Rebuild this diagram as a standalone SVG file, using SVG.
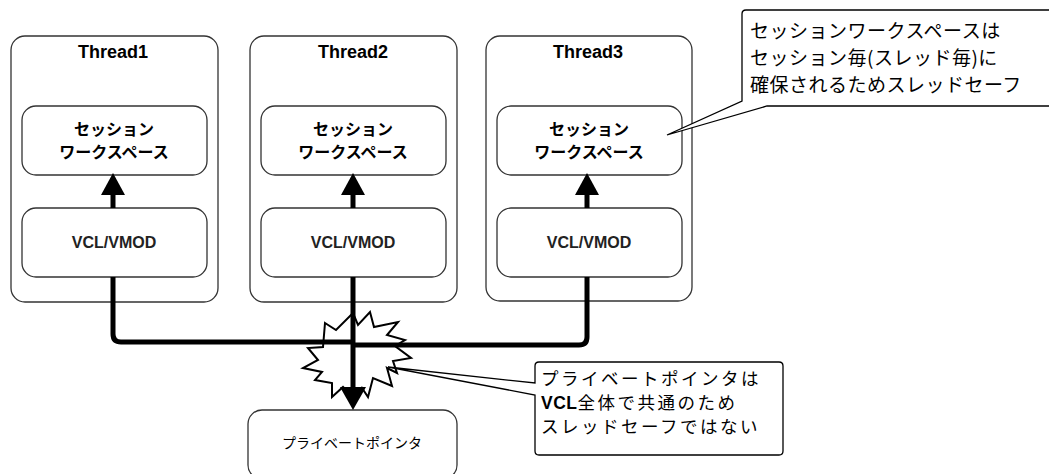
<svg xmlns="http://www.w3.org/2000/svg" width="1049" height="474" viewBox="0 0 1049 474">
<style>
.box{fill:#fff;stroke:#333;stroke-width:1.3}
.title{font-family:"Liberation Sans","Noto Sans CJK JP",sans-serif;font-weight:bold;font-size:18px;text-anchor:middle;fill:#000}
.ses{font-family:"Noto Sans CJK JP",sans-serif;font-weight:bold;font-size:16px;text-anchor:middle;fill:#000}
.vcl{font-family:"Liberation Sans","Noto Sans CJK JP",sans-serif;font-weight:bold;font-size:16px;text-anchor:middle;fill:#222}
.ptr{font-family:"Noto Sans CJK JP",sans-serif;font-size:14px;text-anchor:middle;fill:#000}
.note{font-family:"Noto Sans CJK JP",sans-serif;font-size:19px;letter-spacing:0.5px;fill:#000}
.note2{font-family:"Noto Sans CJK JP",sans-serif;font-size:17.5px;letter-spacing:2.5px;fill:#000}
.wire{fill:none;stroke:#000;stroke-width:5}
.head{fill:#000}
.call{fill:#fff;stroke:#000;stroke-width:1.3}
</style>
<g id="thread1">
<rect class="box" x="11" y="36" width="207" height="266" rx="14"/>
<text class="title" x="113" y="58">Thread1</text>
<rect class="box" x="22" y="106" width="185" height="69" rx="14"/>
<text class="ses" x="114" y="135">セッション</text>
<text class="ses" x="114" y="158">ワークスペース</text>
<rect class="box" x="22" y="208" width="185" height="69" rx="14"/>
<text class="vcl" x="114" y="248">VCL/VMOD</text>
</g>
<g id="thread2">
<rect class="box" x="250" y="36" width="207" height="266" rx="14"/>
<text class="title" x="353" y="58">Thread2</text>
<rect class="box" x="261" y="106" width="185" height="69" rx="14"/>
<text class="ses" x="353" y="135">セッション</text>
<text class="ses" x="353" y="158">ワークスペース</text>
<rect class="box" x="261" y="208" width="185" height="69" rx="14"/>
<text class="vcl" x="353" y="248">VCL/VMOD</text>
</g>
<g id="thread3">
<rect class="box" x="486" y="36" width="206" height="265" rx="14"/>
<text class="title" x="588" y="58">Thread3</text>
<rect class="box" x="497" y="106" width="185" height="69" rx="14"/>
<text class="ses" x="589" y="135">セッション</text>
<text class="ses" x="589" y="158">ワークスペース</text>
<rect class="box" x="497" y="208" width="185" height="69" rx="14"/>
<text class="vcl" x="589" y="248">VCL/VMOD</text>
</g>
<g id="pointer">
<rect class="box" x="248" y="410" width="209" height="69" rx="14"/>
<text class="ptr" x="352" y="448">プライベートポインタ</text>
</g>
<g id="conflict">
<polygon fill="#fff" stroke="#000" stroke-width="2" stroke-linejoin="miter" points="325,323 336,330 353,313 358,325 370,312 374,327 398,322 387,335 405,340 395,346 411,358 393,361 397,373 387,368 392,386 373,378 368,397 362,388 356,400 343,387 332,397 332,383 315,380 322,372 303,368 318,360 308,348 323,347"/>
</g>
<g id="connectors">
<path class="wire" d="M113,277 V334 Q113,342 121,342 H353"/>
<path class="wire" d="M587,277 V337 Q587,345 579,345 H353"/>
<path class="wire" d="M353,277 V390"/>
<polygon class="head" points="340,387 366,387 353,410"/>
<path class="wire" d="M113,208 V192"/>
<polygon class="head" points="101,195 125,195 113,173"/>
<path class="wire" d="M353,208 V192"/>
<polygon class="head" points="341,195 365,195 353,173"/>
<path class="wire" d="M587,208 V192"/>
<polygon class="head" points="575,195 599,195 587,173"/>
</g>
<g id="note1">
<path class="call" d="M746,10 H1060 V106 H767 L667,135 L742,101 V14 Q742,10 746,10 Z"/>
<text class="note" x="750" y="38">セッションワークスペースは</text>
<text class="note" x="750" y="65">セッション毎(スレッド毎)に</text>
<text class="note" x="750" y="92">確保されるためスレッドセーフ</text>
</g>
<g id="note2">
<path class="call" d="M539,362 H779 Q783,362 783,366 V451 Q783,455 779,455 H539 Q535,455 535,451 V395 L388,367 L535,383 V366 Q535,362 539,362 Z"/>
<text class="note2" x="541" y="385">プライベートポインタは</text>
<text class="note2" x="541" y="409"><tspan font-weight="bold" letter-spacing="0.5px" font-family="Liberation Sans,Noto Sans CJK JP,sans-serif">VCL</tspan>全体で共通のため</text>
<text class="note2" x="541" y="433">スレッドセーフではない</text>
</g>
</svg>
